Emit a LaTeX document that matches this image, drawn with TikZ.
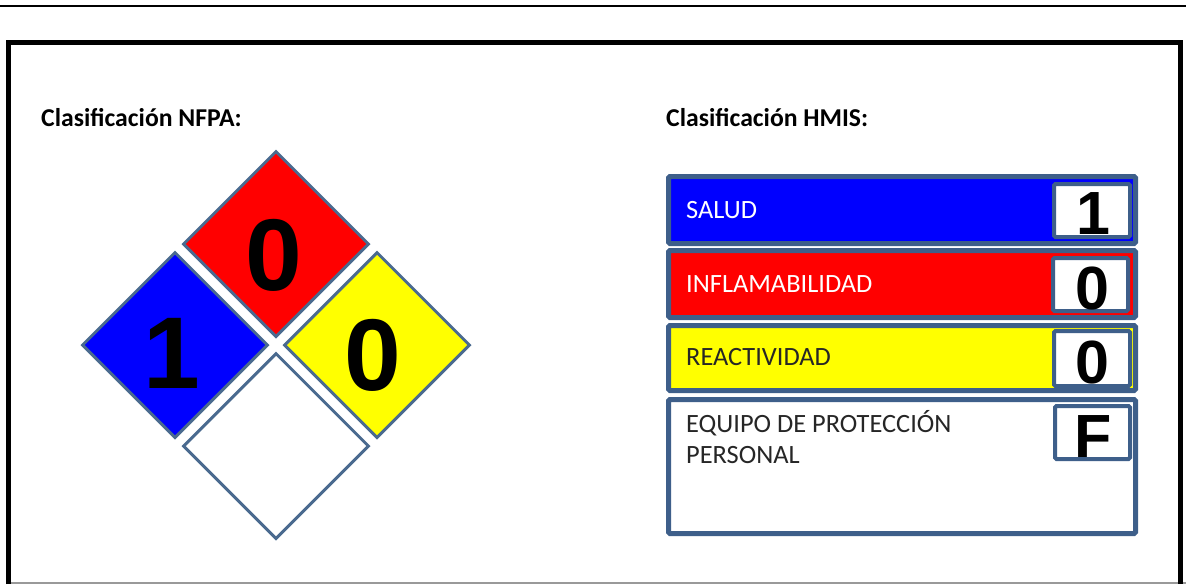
\documentclass[tikz,border=0pt]{standalone}
\usepackage{fontspec}
\setmainfont{Carlito}
\newfontfamily\digitfont{Liberation Sans}
\usetikzlibrary{shapes.geometric}
\definecolor{edge}{RGB}{62,95,138}
\definecolor{dedge}{RGB}{74,106,143}
\definecolor{hblue}{RGB}{0,0,255}
\definecolor{hred}{RGB}{255,0,0}
\definecolor{hyellow}{RGB}{255,255,0}
\tikzset{
  nfpa/.style={draw=dedge, line width=3pt, diamond, aspect=1, minimum width=186pt, minimum height=186pt, inner sep=0pt},
  bigdigit/.style={anchor=base, inner sep=0pt, font=\digitfont\bfseries\fontsize{102}{102}\selectfont},
  smalldigit/.style={anchor=base, inner sep=0pt, font=\digitfont\bfseries\fontsize{61}{61}\selectfont},
  bar/.style={draw=edge, line width=5pt, rounded corners=1.5pt},
  numbox/.style={draw=edge, line width=4pt, fill=white, rounded corners=1.5pt},
  title/.style={anchor=base west, inner sep=0pt, font=\bfseries\fontsize{25.7}{30}\selectfont},
  label/.style={anchor=base west, inner sep=0pt, font=\fontsize{26.4}{31}\selectfont},
}
\begin{document}
\begin{tikzpicture}[x=1pt, y=-1pt]
\useasboundingbox (0,0) rectangle (1186,584);
% page lines and frame
\draw[line width=2pt] (0,6) -- (1186,6);
\draw[line width=1.5pt, black!40] (11,583.2) -- (1186,583.2);
\draw[line width=5pt] (8.5,584) -- (8.5,42.5) -- (1180,42.5) -- (1180,584);
% titles
\node[title] (tnfpa) at (41,126) {Clasificación NFPA:};
\node[title] (thmis) at (666,126) {Clasificación HMIS:};
% NFPA diamond
\node[nfpa, fill=hred] (fire) at (276,244) {};
\node[nfpa, fill=hblue] (health) at (175,345) {};
\node[nfpa, fill=hyellow] (react) at (377,345) {};
\node[nfpa, fill=white] (special) at (276,446) {};
\node[bigdigit] (dfire) at (274,290) {0};
\node[bigdigit] (dhealth) at (172,388) {1};
\node[bigdigit] (dreact) at (373,390) {0};
% HMIS bars
\draw[bar, fill=hblue] (668.5,176.5) rectangle (1135.5,243.5);
\draw[bar, fill=hred] (668.5,250.5) rectangle (1135.5,317.5);
\draw[bar, fill=hyellow] (668.5,325.5) rectangle (1135.5,390.5);
\draw[bar, fill=white] (668.5,399.5) rectangle (1135.5,533.5);
\node[label, text=white] (lsalud) at (686,218) {SALUD};
\node[label, text=white] (linfl) at (686,292) {INFLAMABILIDAD};
\node[label, text=black!85] (lreac) at (686,365) {REACTIVIDAD};
\node[label, text=black!85, align=left] (lepp) at (686,463) {EQUIPO DE PROTECCIÓN\\PERSONAL};
% number boxes
\draw[numbox] (1054,184) rectangle (1130,237);
\draw[numbox] (1053,258) rectangle (1128,311);
\draw[numbox] (1054,331) rectangle (1130,386);
\draw[numbox] (1055,406) rectangle (1130,459);
\node[smalldigit] (nsalud) at (1093,234) {1};
\node[smalldigit] (ninfl) at (1092,309) {0};
\node[smalldigit] (nreac) at (1092,383) {0};
\node[smalldigit] (nepp) at (1093,457) {F};
\end{tikzpicture}
\end{document}
